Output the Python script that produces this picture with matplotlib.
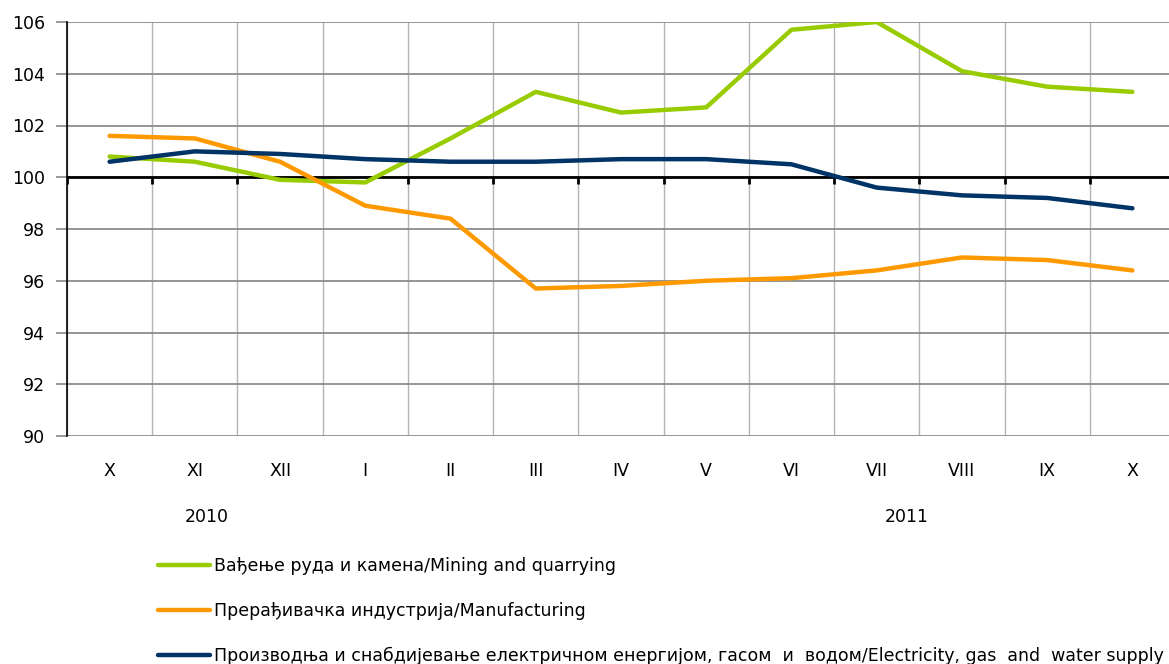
import matplotlib
matplotlib.use("Agg")
import matplotlib.pyplot as plt

months = ["X", "XI", "XII", "I", "II", "III", "IV", "V", "VI", "VII", "VIII", "IX", "X"]
mining = [100.8, 100.6, 99.9, 99.8, 101.5, 103.3, 102.5, 102.7, 105.7, 106.0, 104.1, 103.5, 103.3]
manufacturing = [101.6, 101.5, 100.6, 98.9, 98.4, 95.7, 95.8, 96.0, 96.1, 96.4, 96.9, 96.8, 96.4]
electricity = [100.6, 101.0, 100.9, 100.7, 100.6, 100.6, 100.7, 100.7, 100.5, 99.6, 99.3, 99.2, 98.8]
labels = ["Вађење руда и камена/Mining and quarrying",
          "Прерађивачка индустрија/Manufacturing",
          "Производња и снабдијевање електричном енергијом, гасом  и  водом/Electricity, gas  and  water supply"]
colors = ["#99CC00", "#FF9900", "#003366"]
years = ["2010", "2011"]
yticks = [90, 92, 94, 96, 98, 100, 102, 104, 106]

plt.rcParams['font.family'] = ['DejaVu Sans']
W, H = 1169, 664
fig = plt.figure(figsize=(W / 100, H / 100), dpi=100)
left, right, top, bottom = 67, 1175, 22, 436
ax = fig.add_axes([left / W, 1 - bottom / H, (right - left) / W, (bottom - top) / H])

x = list(range(len(months)))
for series, c, lab in zip([mining, manufacturing, electricity], colors, labels):
    ax.plot(x, series, color=c, lw=3.2, label=lab, solid_capstyle='round', zorder=4)

ax.set_xlim(-0.5, len(months) - 0.5)
ax.set_ylim(90, 106)
ax.set_yticks(yticks)
ax.set_yticklabels([str(v) for v in yticks], fontsize=12.5)
ax.set_xticks(x)
ax.set_xticklabels(months, fontsize=12.5)
ax.set_xticks([i - 0.5 for i in range(len(months) + 1)], minor=True)
ax.tick_params(axis='x', which='both', length=0, pad=19)
ax.tick_params(axis='y', length=8, color='#888888', pad=8, width=1.2)

ax.grid(axis='y', color='#8c8c8c', lw=1.3, zorder=1)
ax.grid(axis='x', which='minor', color='#b4b4b4', lw=1.0, zorder=1)
ax.grid(axis='x', which='major', visible=False)
for s in ['top', 'right', 'bottom']:
    ax.spines[s].set_visible(False)
ax.spines['left'].set_color('black')
ax.spines['left'].set_linewidth(1.2)
ax.axhline(100, color='black', lw=2.0, zorder=3)
ax.vlines([i - 0.5 for i in range(len(months) + 1)], 100 - 0.25, 100, color='black', lw=2.0, zorder=3)

fig.text(207 / W, 1 - 517 / H, years[0], ha='center', va='center', fontsize=12.5)
fig.text(907 / W, 1 - 517 / H, years[1], ha='center', va='center', fontsize=12.5)

fig.legend(loc='upper left', bbox_to_anchor=(158 / W, 1 - 557 / H), frameon=False,
           fontsize=12.5, handlelength=3.0, handletextpad=0.2, labelspacing=1.55,
           borderaxespad=0, borderpad=0)

fig.savefig("out.png", dpi=100)
